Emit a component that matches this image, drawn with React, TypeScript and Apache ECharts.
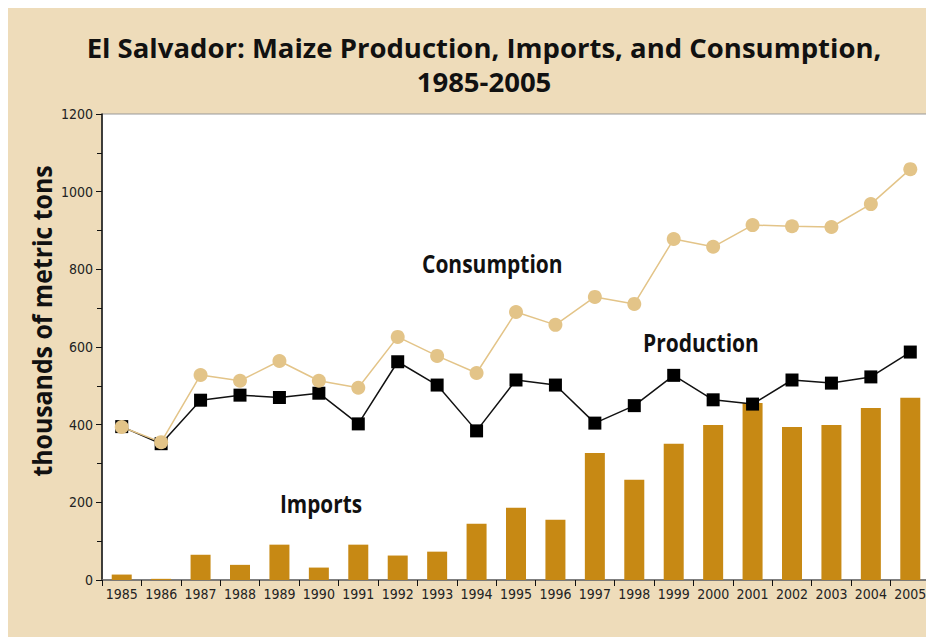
import React, { useEffect, useRef } from "react";
import * as echarts from "echarts";

const years = ["1985","1986","1987","1988","1989","1990","1991","1992","1993","1994","1995","1996","1997","1998","1999","2000","2001","2002","2003","2004","2005"];
const imports = [14, 3, 65, 39, 91, 32, 91, 63, 73, 145, 186, 155, 327, 258, 351, 399, 456, 394, 399, 443, 469];
const production = [395, 351, 463, 476, 470, 481, 402, 562, 502, 384, 515, 502, 404, 449, 527, 464, 453, 515, 507, 523, 587];
const consumption = [394, 355, 528, 513, 564, 513, 495, 626, 577, 533, 690, 657, 729, 711, 878, 858, 914, 911, 909, 968, 1058];

const condensed = "'DejaVu Sans Condensed', 'Liberation Sans Narrow', sans-serif";

export default function App() {
  const ref = useRef<HTMLDivElement>(null);
  useEffect(() => {
    const chart = echarts.init(ref.current!, null, { renderer: "svg" });
    const annot = (text: string, x: number, y: number, sx: number, size: number, rot = 0) => ({
      type: "text",
      x,
      y,
      rotation: rot,
      scaleX: sx,
      style: {
        text,
        font: `bold ${size}px 'Open Sans', sans-serif`,
        fill: "#111",
        textAlign: rot ? "center" : "left",
        textVerticalAlign: "middle",
      },
    });
    chart.setOption({
      animation: false,
      backgroundColor: "#EEDCBA",
      grid: {
        left: 94,
        right: 4,
        top: 106,
        bottom: 57,
        show: true,
        backgroundColor: "#ffffff",
        borderColor: "#999",
        borderWidth: 1,
      },
      xAxis: {
        type: "category",
        data: years,
        boundaryGap: true,
        axisLine: { lineStyle: { color: "#666", width: 1.5 } },
        axisTick: { show: true, length: 6, lineStyle: { color: "#111" } },
        axisLabel: { interval: 0, fontFamily: condensed, fontSize: 14, color: "#222", margin: 7 },
      },
      yAxis: [
        {
          type: "value",
          min: 0,
          max: 1200,
          interval: 200,
          axisLine: { show: true, lineStyle: { color: "#111", width: 1.5 } },
          axisTick: { show: true, length: 6, lineStyle: { color: "#111" } },
          minorTick: { show: true, splitNumber: 2, length: 5, lineStyle: { color: "#111" } },
          splitLine: { show: false },
          axisLabel: { fontFamily: condensed, fontSize: 14, color: "#222", margin: 9, formatter: (v: number) => String(v) },
        },
        {
          type: "value",
          min: 0,
          max: 1200,
          interval: 200,
          position: "right",
          axisLine: { show: true, lineStyle: { color: "#111", width: 1.5 } },
          axisTick: { show: false },
          axisLabel: { show: false },
          splitLine: { show: false },
        },
      ],
      graphic: [
        {
          type: "text",
          x: 476,
          y: 22,
          style: {
            text: "El Salvador: Maize Production, Imports, and Consumption,\n1985-2005",
            font: "bold 27.5px 'Open Sans', sans-serif",
            lineHeight: 34,
            fill: "#111",
            textAlign: "center",
          },
        },
        annot("Consumption", 414, 255, 0.84, 25),
        annot("Production", 635, 334, 0.84, 25),
        annot("Imports", 272, 495, 0.83, 25),
        annot("thousands of metric tons", 34, 313, 0.92, 27, Math.PI / 2),
      ],
      series: [
        {
          name: "Imports",
          type: "bar",
          data: imports,
          barWidth: 20,
          itemStyle: { color: "#C78914" },
        },
        {
          name: "Production",
          type: "line",
          data: production,
          symbol: "rect",
          symbolSize: 13,
          lineStyle: { color: "#111", width: 1.5 },
          itemStyle: { color: "#000" },
        },
        {
          name: "Consumption",
          type: "line",
          data: consumption,
          symbol: "circle",
          symbolSize: 14,
          lineStyle: { color: "#E3C488", width: 1.5 },
          itemStyle: { color: "#E3C488" },
        },
      ],
    });
    return () => chart.dispose();
  }, []);
  return <div ref={ref} style={{ width: 926, height: 629 }} />;
}
